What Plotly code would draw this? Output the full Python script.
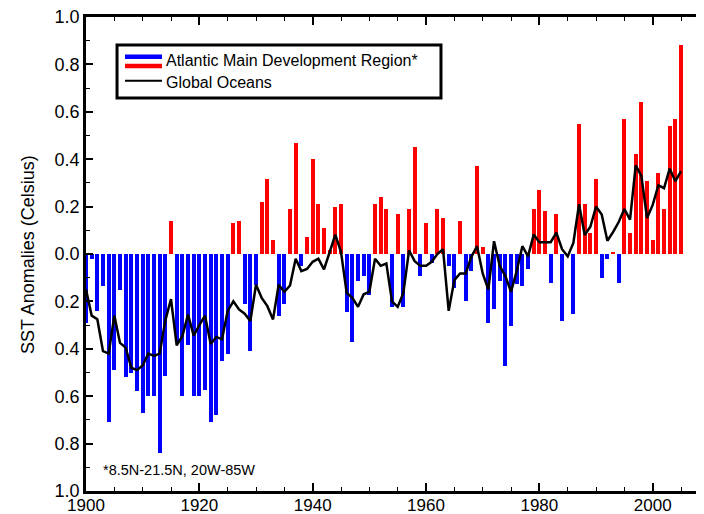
import plotly.graph_objects as go

years = list(range(1900, 2006))

atlantic_mdr = [
    -0.29, -0.02, -0.24, -0.135, -0.71, -0.49, -0.15, -0.52, -0.50, -0.58,   # 1900-1909
    -0.67, -0.60, -0.60, -0.84, -0.515, 0.14, -0.37, -0.60, -0.385, -0.60,   # 1910-1919
    -0.60, -0.575, -0.71, -0.68, -0.45, -0.42, 0.13, 0.14, -0.213, -0.41,    # 1920-1929
    -0.13, 0.22, 0.318, 0.06, -0.262, -0.213, 0.19, 0.468, -0.05, 0.07,      # 1930-1939
    0.40, 0.21, 0.11, 0.015, 0.20, 0.21, -0.244, -0.373, -0.115, -0.093,     # 1940-1949
    -0.174, 0.21, 0.24, 0.19, -0.223, 0.17, -0.223, 0.19, 0.45, -0.094,      # 1950-1959
    0.13, -0.04, 0.19, 0.15, -0.05, -0.143, 0.138, -0.20, -0.072, 0.37,      # 1960-1969
    0.03, -0.293, -0.234, -0.115, -0.473, -0.304, -0.125, -0.136, -0.063, 0.19,  # 1970-1979
    0.27, 0.18, -0.122, 0.17, -0.283, 0.0, -0.252, 0.55, 0.21, 0.09,         # 1980-1989
    0.318, -0.10, -0.023, 0.01, -0.122, 0.57, 0.09, 0.42, 0.64, 0.31,        # 1990-1999
    0.06, 0.34, 0.19, 0.54, 0.57, 0.88,                                      # 2000-2005
]

global_oceans = [
    -0.15, -0.26, -0.275, -0.41, -0.42, -0.26, -0.375, -0.395, -0.48, -0.49,
    -0.47, -0.42, -0.43, -0.42, -0.28, -0.19, -0.385, -0.347, -0.255, -0.345,
    -0.30, -0.26, -0.38, -0.35, -0.36, -0.24, -0.20, -0.234, -0.252, -0.283,
    -0.13, -0.185, -0.22, -0.276, -0.13, -0.16, -0.133, -0.02, -0.072, -0.063,
    -0.033, -0.02, -0.065, 0.012, 0.082, 0.008, -0.164, -0.185, -0.223, -0.17,
    -0.16, -0.02, -0.05, -0.04, -0.20, -0.223, -0.164, 0.015, -0.03, -0.05,
    -0.05, -0.033, 0.0, 0.02, -0.24, -0.11, -0.082, -0.082, -0.012, 0.033,
    -0.082, -0.15, 0.054, -0.05, -0.093, -0.16, -0.072, 0.033, -0.01, 0.082,
    0.05, 0.05, 0.05, 0.09, 0.02, -0.01, 0.047, 0.21, 0.08, 0.115,
    0.20, 0.167, 0.056, 0.092, 0.135, 0.19, 0.145, 0.374, 0.33, 0.152,
    0.207, 0.29, 0.278, 0.36, 0.307, 0.35,
]

y_tick_vals = [-1.0, -0.8, -0.6, -0.4, -0.2, 0.0, 0.2, 0.4, 0.6, 0.8, 1.0]
y_tick_text = ["1.0", "0.8", "0.6", "0.4", "0.2", "0.0", "0.2", "0.4", "0.6", "0.8", "1.0"]
x_tick_vals = [1900, 1920, 1940, 1960, 1980, 2000]

legend_atlantic = "Atlantic Main Development Region*"
legend_global = "Global Oceans"
footnote = "*8.5N-21.5N, 20W-85W"
y_title = "SST Anomalies (Celsius)"

FONT = "Liberation Sans, Arial, Helvetica, sans-serif"
BLUE = "#0000FF"
RED = "#FF0000"

bar_colors = [RED if v > 0 else BLUE for v in atlantic_mdr]

fig = go.Figure()
fig.add_trace(go.Bar(
    x=years, y=atlantic_mdr, width=0.7,
    marker=dict(color=bar_colors, line=dict(width=0)),
    showlegend=False,
))
fig.add_trace(go.Scatter(
    x=years, y=global_oceans, mode="lines",
    line=dict(color="black", width=2.5),
    showlegend=False,
))

shapes = []
# legend box and symbols (paper coords)
shapes.append(dict(type="rect", xref="paper", yref="paper",
                   x0=0.0502, x1=0.5744, y0=0.829, y1=0.941,
                   line=dict(color="black", width=3), fillcolor="white", layer="above"))
shapes.append(dict(type="line", xref="paper", yref="paper",
                   x0=0.0631, x1=0.1230, y0=0.9162, y1=0.9162,
                   line=dict(color=BLUE, width=4.5), layer="above"))
shapes.append(dict(type="line", xref="paper", yref="paper",
                   x0=0.0631, x1=0.1230, y0=0.8966, y1=0.8966,
                   line=dict(color=RED, width=4.5), layer="above"))
shapes.append(dict(type="line", xref="paper", yref="paper",
                   x0=0.0631, x1=0.1230, y0=0.8656, y1=0.8656,
                   line=dict(color="black", width=2), layer="above"))
# right-side inward ticks (right frame lies just outside the picture)
for v in y_tick_vals[1:-1]:
    shapes.append(dict(type="line", xref="paper", yref="y",
                       x0=0.992, x1=1.0, y0=v, y1=v,
                       line=dict(color="black", width=1.5), layer="above"))

annotations = [
    dict(xref="paper", yref="paper", x=0.1262, y=0.9072, text=legend_atlantic,
         showarrow=False, xanchor="left", yanchor="middle",
         font=dict(family=FONT, size=16, color="black")),
    dict(xref="paper", yref="paper", x=0.1262, y=0.8614, text=legend_global,
         showarrow=False, xanchor="left", yanchor="middle",
         font=dict(family=FONT, size=16, color="black")),
    dict(xref="paper", yref="paper", x=0.0243, y=0.0443, text=footnote,
         showarrow=False, xanchor="left", yanchor="middle",
         font=dict(family=FONT, size=14.5, color="black")),
    dict(xref="paper", yref="paper", x=-0.094, y=0.5, text=y_title,
         showarrow=False, xanchor="center", yanchor="middle", textangle=-90,
         font=dict(family=FONT, size=18, color="black")),
]

# The page body adds an 8px offset, so the figure is 8px smaller and margins shifted
fig.update_layout(
    width=696, height=506,
    margin=dict(l=78, r=0, t=9, b=23, autoexpand=False),
    paper_bgcolor="white", plot_bgcolor="white",
    bargap=0, shapes=shapes, annotations=annotations,
    font=dict(family=FONT, color="black"),
)
fig.update_xaxes(
    range=[1900, 2009.05], showgrid=False, zeroline=False, automargin=False,
    showline=True, linecolor="black", linewidth=2.5, mirror="ticks",
    ticks="inside", ticklen=8, tickwidth=1.5, tickcolor="black",
    tickvals=x_tick_vals, tickfont=dict(size=17, family=FONT),
    ticklabeloverflow="allow", ticklabelstandoff=-3,
    minor=dict(dtick=5, tick0=1900, ticks="inside", ticklen=4, tickwidth=1.2, tickcolor="black"),
)
fig.update_yaxes(
    range=[-1.0, 1.0], showgrid=False, zeroline=False, automargin=False,
    showline=True, linecolor="black", linewidth=2.5, mirror=False,
    ticks="inside", ticklen=7, tickwidth=1.5, tickcolor="black",
    tickvals=y_tick_vals, ticktext=y_tick_text, tickfont=dict(size=18, family=FONT),
    ticklabeloverflow="allow",
    minor=dict(dtick=0.1, tick0=0, ticks="inside", ticklen=4, tickwidth=1.2, tickcolor="black"),
)

fig.write_html("out.html")
